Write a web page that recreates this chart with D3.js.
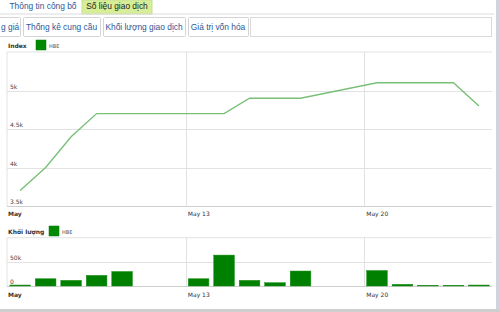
<!DOCTYPE html>
<html>
<head>
<meta charset="utf-8">
<script src="https://cdn.jsdelivr.net/npm/d3@7"></script>
<style>
  body { margin: 0; background: #fff; }
  svg { display: block; }
</style>
</head>
<body>
<div id="chart"></div>
<script>
// trading days (May 2013) and the HBE series
var days = ["2013-05-06", "2013-05-07", "2013-05-08", "2013-05-09", "2013-05-10",
            "2013-05-13", "2013-05-14", "2013-05-15", "2013-05-16", "2013-05-17",
            "2013-05-20", "2013-05-21", "2013-05-22", "2013-05-23", "2013-05-24"];
var indexValues = [3700, 4000, 4400, 4700, 4700, 4700, 4700, 4900, 4900, 4900,
                   5100, 5100, 5100, 5100, 4800];
var volumeValues = [2000, 15000, 11700, 22000, 30000, 15000, 64000, 11700, 6800, 31000,
                    32000, 3500, 1500, 1500, 2000];
var indexTicks = [3500, 4000, 4500, 5000];
var volumeTicks = [0, 50000];
var dateTicks = ["2013-05-06", "2013-05-13", "2013-05-20"];
var dateTickLabels = ["May", "May 13", "May 20"];
var topTabs = ["Thông tin công bố", "Số liệu giao dịch"];
var subTabs = ["g giá", "Thống kê cung cầu", "Khối lượng giao dịch", "Giá trị vốn hóa"];

var W = 500, H = 312;
var parse = d3.utcParse("%Y-%m-%d");
var noon = function (s) { return d3.utcHour.offset(parse(s), 12); };

var svg = d3.select("#chart").append("svg")
    .attr("width", W)
    .attr("height", H);

// ---- tabs ----
var tabFont = "'Liberation Sans', Arial, sans-serif";
var topX = [0, 82], topW = [82, 70];
topTabs.forEach(function (t, i) {
  if (i == 1) {
    svg.append("rect").attr("x", topX[i]).attr("y", 0).attr("width", topW[i]).attr("height", 14)
        .attr("fill", "#d6ee98").attr("stroke", "#c9dd8f");
  }
  svg.append("text").attr("x", i == 0 ? 43 : 117).attr("y", 9)
      .attr("text-anchor", "middle")
      .attr("font-family", tabFont).attr("font-size", 8.4)
      .attr("fill", i == 1 ? "#222" : "#2b5797")
      .text(t);
});
svg.append("line").attr("x1", 0).attr("x2", 494).attr("y1", 14).attr("y2", 14)
    .attr("stroke", "#dcdcdc");

var subX = [-10, 23, 103, 188], subW = [32, 79, 84, 62];
subTabs.forEach(function (t, i) {
  svg.append("rect").attr("x", subX[i] + 0.5).attr("y", 17.5).attr("width", subW[i] - 2).attr("height", 19)
      .attr("fill", "#fff").attr("stroke", "#d4d4d4").attr("rx", 1);
  svg.append("text")
      .attr("x", i == 0 ? 1 : subX[i] + (subW[i] - 2) / 2)
      .attr("y", 30)
      .attr("text-anchor", i == 0 ? "start" : "middle")
      .attr("font-family", tabFont).attr("font-size", 8.4)
      .attr("fill", "#2b5797")
      .text(t);
});
svg.append("rect").attr("x", 250.5).attr("y", 17.5).attr("width", 241).attr("height", 19)
    .attr("fill", "none").attr("stroke", "#dadada");

// right edge bar + bottom line
svg.append("rect").attr("x", 496).attr("y", 0).attr("width", 4).attr("height", H).attr("fill", "#d3d3de");
svg.append("rect").attr("x", 0).attr("y", 309).attr("width", W).attr("height", 3).attr("fill", "#cfcfcf");

// ---- scales ----
var x = d3.scaleUtc()
    .domain([parse("2013-05-06"), parse("2013-05-25")])
    .range([7.4, 491.7]);
var dayW = x(parse("2013-05-07")) - x(parse("2013-05-06"));

var yIdx = d3.scaleLinear().domain([3500, 5500]).range([206, 52]);
var yVol = d3.scaleLinear().domain([0, 100000]).range([286, 237.7]);

var lblFont = "'DejaVu Sans', Verdana, sans-serif";
var gridColor = "#e2e2e2";

function panel(y, top, bottom, ticks, fmt, labelY) {
  var g = svg.append("g");
  // frame
  g.append("line").attr("x1", 7).attr("x2", 492).attr("y1", top).attr("y2", top).attr("stroke", gridColor);
  g.append("line").attr("x1", 7).attr("x2", 7).attr("y1", top).attr("y2", bottom).attr("stroke", gridColor);
  // horizontal grid + labels
  g.selectAll(".hg").data(ticks).enter().append("line")
      .attr("x1", 7).attr("x2", 492)
      .attr("y1", function (d) { return Math.round(y(d)) + 0.5; })
      .attr("y2", function (d) { return Math.round(y(d)) + 0.5; })
      .attr("stroke", function (d, i) { return i == 0 ? "#cfcfcf" : gridColor; });
  g.selectAll(".hl").data(ticks).enter().append("text")
      .attr("x", 10)
      .attr("y", function (d) { return y(d) - 2; })
      .attr("font-family", lblFont).attr("font-size", 6).attr("fill", "#444")
      .text(fmt);
  // vertical grid
  g.selectAll(".vg").data(dateTicks.slice(1)).enter().append("line")
      .attr("x1", function (d) { return Math.round(x(parse(d))) + 0.5; })
      .attr("x2", function (d) { return Math.round(x(parse(d))) + 0.5; })
      .attr("y1", top).attr("y2", bottom)
      .attr("stroke", gridColor);
  // date labels
  g.selectAll(".dl").data(dateTicks).enter().append("text")
      .attr("x", function (d, i) { return i == 0 ? 8 : x(parse(d)) + 2; })
      .attr("y", labelY)
      .attr("font-family", lblFont).attr("font-size", 6)
      .attr("font-weight", function (d, i) { return i == 0 ? "bold" : "normal"; })
      .attr("fill", "#333")
      .text(function (d, i) { return dateTickLabels[i]; });
}

function legend(label, y, sqX) {
  svg.append("text").attr("x", 8).attr("y", y + 3)
      .attr("font-family", lblFont).attr("font-size", 6).attr("font-weight", "bold").attr("fill", "#333")
      .text(label);
  svg.append("rect").attr("x", sqX).attr("y", y - 5).attr("width", 10).attr("height", 10)
      .attr("fill", "#008a00").attr("stroke", "#0a7a0a").attr("stroke-width", 0.5);
  svg.append("text").attr("x", sqX + 13).attr("y", y + 2.5)
      .attr("font-family", lblFont).attr("font-size", 5).attr("fill", "#555")
      .text("HBE");
}

// ---- index chart ----
legend("Index", 45, 36);
panel(yIdx, 52, 206, indexTicks, d3.format("~s"), 216);

var pts = days.map(function (d, i) { return { date: noon(d), v: indexValues[i] }; });
svg.append("path")
    .datum(pts)
    .attr("fill", "none")
    .attr("stroke", "#78c078")
    .attr("stroke-width", 1.4)
    .attr("d", d3.line()
        .x(function (d) { return x(d.date); })
        .y(function (d) { return yIdx(d.v); }));

// ---- volume chart ----
legend("Khối lượng", 231, 49);
panel(yVol, 237.7, 286, volumeTicks, function (d) { return d == 0 ? "0" : d3.format("~s")(d); }, 297);

var bw = dayW * 0.81;
svg.selectAll(".bar")
    .data(days)
    .enter()
    .append("rect")
    .attr("x", function (d) { return x(noon(d)) - bw / 2; })
    .attr("y", function (d, i) { return yVol(volumeValues[i]); })
    .attr("width", bw)
    .attr("height", function (d, i) { return yVol(0) - yVol(volumeValues[i]); })
    .attr("fill", "#008000")
    .attr("stroke", "#1a8f1a")
    .attr("stroke-width", 0.5);
</script>
</body>
</html>
